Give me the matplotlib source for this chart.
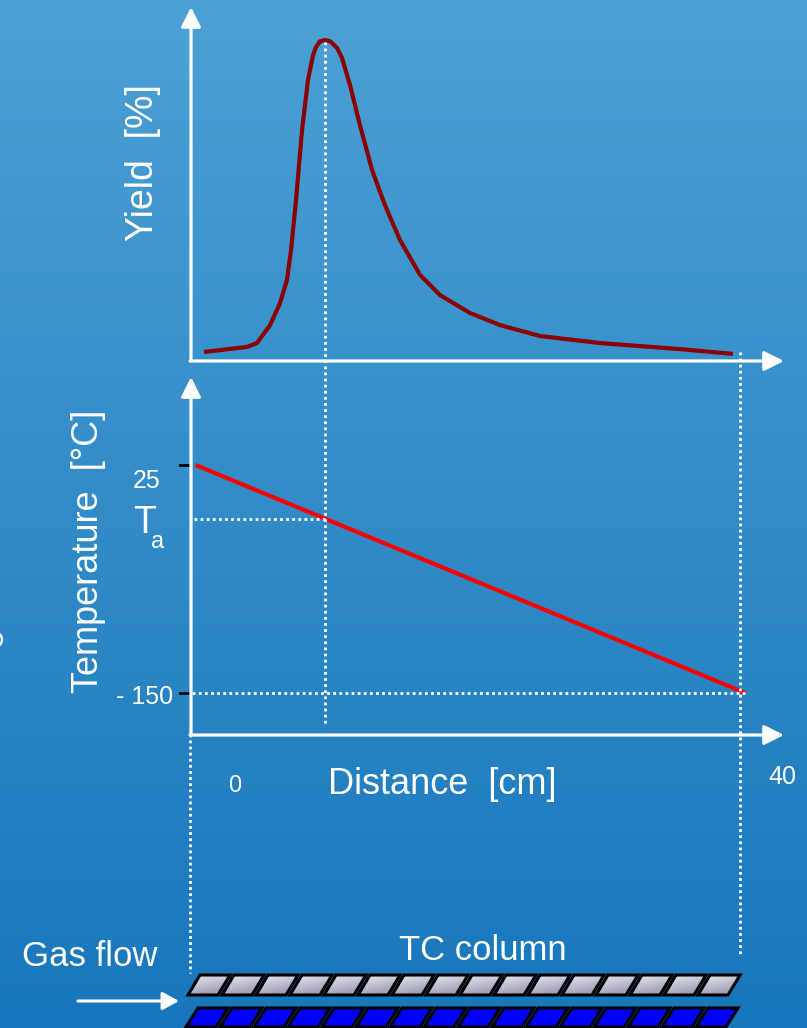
import numpy as np
import matplotlib
matplotlib.use("Agg")
import matplotlib.pyplot as plt
from matplotlib.patches import Polygon
from matplotlib.colors import LinearSegmentedColormap
from matplotlib.transforms import blended_transform_factory

plt.rcParams['font.family'] = ['Liberation Sans', 'DejaVu Sans']

# --- data ---
yield_dist = [1.02, 4.15, 4.87, 5.82, 6.55, 7.05, 7.35, 7.71, 8.15, 8.58, 8.95, 9.16, 9.45,
              9.82, 10.2, 10.7, 11.05, 11.64, 12.36, 13.24, 14.18, 15.27, 16.73, 18.18,
              20.36, 22.55, 25.45, 29.82, 35.64, 39.49]
yield_pct = [2.5, 4.1, 5.3, 10.9, 17.8, 25.0, 34.4, 50.0, 71.9, 87.5, 95.3, 97.8, 99.6,
             100.0, 99.6, 97.5, 94.5, 85.9, 73.4, 59.4, 48.4, 37.5, 26.6, 20.3,
             14.7, 10.9, 7.5, 5.3, 3.4, 1.9]
temp_dist = [0.4, 40.4]
temp_vals = [25, -150]
temp_ticks = [25, -150]
dist_ticks = [0, 40]
n_blocks = 16

W, H = 807, 1028
WHITE = 'white'


def px_rect(left, top, right, bottom):
    return [left / W, 1 - bottom / H, (right - left) / W, (bottom - top) / H]


fig = plt.figure(figsize=(W / 100, H / 100), dpi=100)

# background gradient
bg = fig.add_axes([0, 0, 1, 1], zorder=-2)
top_c = np.array([76, 161, 212]) / 255
bot_c = np.array([24, 118, 188]) / 255
t = np.linspace(0, 1, 256)[:, None]
grad = top_c[None, :] * (1 - t) + bot_c[None, :] * t
bg.imshow(grad[:, None, :].repeat(2, axis=1), aspect='auto', extent=[0, 1, 0, 1])
bg.axis('off')

# data axes
ax_y = fig.add_axes(px_rect(190, 10, 740, 360))
ax_y.set_xlim(0, 40)
ax_y.set_ylim(0, 109.4)
ax_y.axis('off')

ax_t = fig.add_axes(px_rect(190, 380, 740, 735))
ax_t.set_xlim(0, 40)
ax_t.set_ylim(-182.2, 90.2)
ax_t.axis('off')

# overlay in pixel coords
ov = fig.add_axes([0, 0, 1, 1], zorder=5)
ov.set_xlim(0, W)
ov.set_ylim(H, 0)
ov.axis('off')
ov.patch.set_alpha(0)

ax_y.plot(yield_dist, yield_pct, color='#8b0000', lw=3.0, solid_capstyle='butt',
          solid_joinstyle='round', clip_on=False)
ax_t.plot(temp_dist, temp_vals, color='#ff0000', lw=3.0, solid_capstyle='butt', clip_on=False)

dot = dict(color=WHITE, lw=2.0, linestyle=(0, (1, 1.2)), clip_on=False)

# guide lines derived from the data
peak_d = yield_dist[int(np.argmax(yield_pct))]
t_a = np.interp(peak_d, temp_dist, temp_vals)
tr_y = blended_transform_factory(ax_y.transData, ov.transData)
ov.plot([peak_d, peak_d], [42, 725], transform=tr_y, **dot)
ov.plot([dist_ticks[1], dist_ticks[1]], [352, 955], transform=tr_y, **dot)
ov.plot([dist_ticks[0], dist_ticks[0]], [740, 973], transform=tr_y, **dot)
ax_t.plot([0.3, peak_d], [t_a, t_a], **dot)
ax_t.plot([-0.7, temp_dist[1]], [temp_vals[1], temp_vals[1]], **dot)

# temperature tick dashes
tr_t = blended_transform_factory(ov.transData, ax_t.transData)
for v in temp_ticks:
    ov.plot([180, 190], [v, v], transform=tr_t, color='black', lw=2.0, clip_on=False)

# axis arrows
arr = dict(arrowstyle='-|>,head_length=0.6,head_width=0.3', color=WHITE, lw=2.3,
           shrinkA=0, shrinkB=0, mutation_scale=20)
ov.annotate('', xy=(191, 7), xytext=(191, 361), arrowprops=arr)
ov.annotate('', xy=(784, 361), xytext=(190, 361), arrowprops=arr)
ov.annotate('', xy=(191, 377), xytext=(191, 736), arrowprops=arr)
ov.annotate('', xy=(784, 735), xytext=(190, 735), arrowprops=arr)
ov.annotate('', xy=(179, 1001), xytext=(78, 1001),
            arrowprops=dict(arrowstyle='-|>,head_length=0.55,head_width=0.3', color=WHITE,
                            lw=2.2, shrinkA=0, shrinkB=0, mutation_scale=18))

# labels
txt = dict(color=WHITE, ha='center', va='center')
ov.text(143, 163, 'Yield  [%]', fontsize=27, rotation=90, **txt)
ov.text(88, 551, 'Temperature  [°C]', fontsize=26, rotation=90, **txt)
ov.text(442, 784, 'Distance  [cm]', fontsize=26, **txt)
ov.text(235, 786, str(dist_ticks[0]), fontsize=17, **txt)
ov.text(782, 777, str(dist_ticks[1]), fontsize=18, **txt)
ov.text(147, 481, str(temp_ticks[0]), fontsize=18, **txt)
ov.text(173, 697, '- ' + str(abs(temp_ticks[1])), fontsize=18, color=WHITE, ha='right', va='center')
ov.text(145, 523, 'T', fontsize=27, **txt)
ov.text(158, 542, 'a', fontsize=17, **txt)
ov.text(90, 957, 'Gas flow', fontsize=25, **txt)
ov.text(483, 950, 'TC column', fontsize=25, **txt)
ov.text(-6, 638, 'e', fontsize=24, rotation=90, **txt)

# TC column packing blocks
pitch = (744 - 200) / n_blocks
bw, skew = pitch - 4, 12
g = np.linspace(0, 1, 64)
blk_grad = np.clip(g[:, None] * 0.7 + g[None, :] * 0.3, 0, 1)
grey_cmap = LinearSegmentedColormap.from_list('gr', ['#ececf4', '#8c8ca6'])
for i in range(n_blocks):
    x0 = 188 + i * pitch
    y_top, y_bot = 975, 995
    pts = [(x0, y_bot), (x0 + skew, y_top), (x0 + skew + bw, y_top), (x0 + bw, y_bot)]
    poly = Polygon(pts, closed=True, facecolor='none', edgecolor='black', lw=2.2,
                   joinstyle='miter', zorder=3)
    ov.add_patch(poly)
    im = ov.imshow(blk_grad, cmap=grey_cmap, extent=[x0, x0 + skew + bw, y_bot, y_top],
                   aspect='auto', zorder=2)
    im.set_clip_path(poly)
    y_top, y_bot = 1008, 1027
    pts = [(x0 - 2, y_bot), (x0 - 2 + skew, y_top), (x0 - 2 + skew + bw, y_top), (x0 - 2 + bw, y_bot)]
    ov.add_patch(Polygon(pts, closed=True, facecolor='#0000ff', edgecolor='black', lw=2.2,
                         joinstyle='miter', zorder=3))

ov.set_xlim(0, W)
ov.set_ylim(H, 0)

fig.savefig('out.png', dpi=100)
